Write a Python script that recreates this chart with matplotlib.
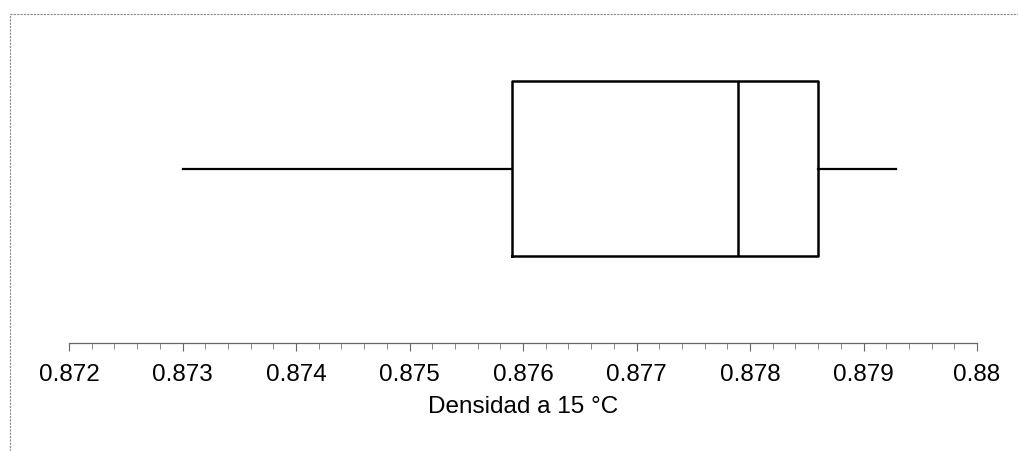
import matplotlib
matplotlib.use('Agg')
import matplotlib.pyplot as plt
from matplotlib.lines import Line2D
from matplotlib.ticker import MultipleLocator

plt.rcParams['font.family'] = ['Liberation Sans', 'DejaVu Sans']

# box plot summary
label = 'Densidad a 15 °C'
whisker_low = 0.8730
q1 = 0.8759
median = 0.87789
q3 = 0.8786
whisker_high = 0.87929
x_ticks = [0.872, 0.873, 0.874, 0.875, 0.876, 0.877, 0.878, 0.879, 0.88]
x_tick_labels = ['0.872', '0.873', '0.874', '0.875', '0.876', '0.877', '0.878', '0.879', '0.88']

W, H = 1018, 451
fig = plt.figure(figsize=(W / 100, H / 100), dpi=100)
fig.patch.set_facecolor('white')

# axes placed so the scale runs from x=69 to x=977 px, baseline at y=343 px
ax = fig.add_axes([69 / W, (H - 343) / H, (977 - 69) / W, (343 - 14) / H])

stats = [dict(whislo=whisker_low, q1=q1, med=median, q3=q3, whishi=whisker_high,
              fliers=[], label='')]
ax.bxp(stats, positions=[0.53], widths=0.532, orientation='horizontal',
       showcaps=False, showfliers=False, patch_artist=False,
       boxprops=dict(color='black', linewidth=1.8),
       medianprops=dict(color='black', linewidth=1.8),
       whiskerprops=dict(color='black', linewidth=1.6))

ax.set_xlim(0.872, 0.88)
ax.set_ylim(0, 1)
ax.set_xticks(x_ticks)
ax.set_xticklabels(x_tick_labels)
ax.xaxis.set_minor_locator(MultipleLocator(0.0002))
ax.set_yticks([])

for side in ['top', 'right', 'left']:
    ax.spines[side].set_visible(False)
ax.spines['bottom'].set_color('#666666')
ax.spines['bottom'].set_linewidth(0.9)
ax.tick_params(axis='x', which='major', length=6, width=0.8, color='#666666',
               labelsize=17.5, pad=9)
ax.tick_params(axis='x', which='minor', length=4, width=0.7, color='#888888')
ax.set_xlabel(label, fontsize=17.5, labelpad=7)
ax.patch.set_alpha(0)

# scanned page frame on top and left
fig.add_artist(Line2D([10 / W, 1.0], [(H - 14) / H, (H - 14) / H],
                      color='#888888', linewidth=0.8, linestyle=(0, (2, 1))))
fig.add_artist(Line2D([10 / W, 10 / W], [0, (H - 14) / H],
                      color='#888888', linewidth=0.8, linestyle=(0, (2, 1))))

fig.savefig('out.png', dpi=100)
